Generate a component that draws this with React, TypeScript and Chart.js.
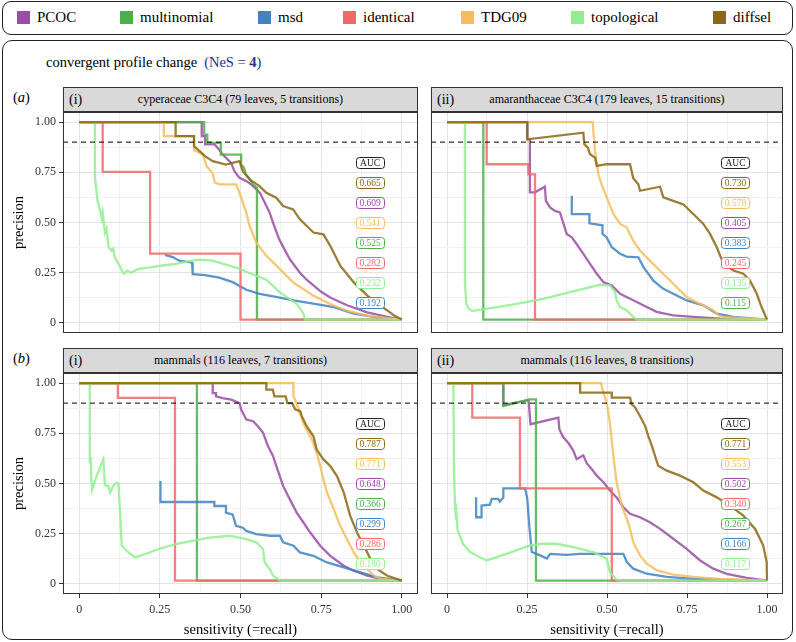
import React, { useEffect, useRef } from 'react';
import { Chart, registerables } from 'chart.js';

Chart.register(...registerables);

type Pt = [number, number];

const SERIF = '"Liberation Serif", "DejaVu Serif", serif';

const METHODS = ['PCOC', 'multinomial', 'msd', 'identical', 'TDG09', 'topological', 'diffsel'];
const COLORS = ['#984EA3', '#4DAF4A', '#3F83BF', '#EE6A6A', '#F6BD5C', '#90EE90', '#8B6914'];

const GRID_VALUES = [0, 0.125, 0.25, 0.375, 0.5, 0.625, 0.75, 0.875, 1];
const TICK_VALUES = [0, 0.25, 0.5, 0.75, 1];
const TICK_LABELS = ['0', '0.25', '0.50', '0.75', '1.00'];
const THRESHOLD = 0.9;
const AUC_X = 0.9;
const AUC_Y_TOP = 0.8;
const AUC_Y_STEP = 0.1;

// ---------- (a)(i) cyperaceae C3C4 ----------
const a1_PCOC: Pt[] = [[0,1],[0.38,1],[0.38,0.93],[0.39,0.93],[0.39,0.889],[0.42,0.889],[0.43,0.87],[0.445,0.838],[0.471,0.797],[0.481,0.755],[0.497,0.722],[0.518,0.706],[0.533,0.69],[0.56,0.648],[0.575,0.6],[0.59,0.55],[0.605,0.48],[0.62,0.416],[0.635,0.37],[0.653,0.317],[0.668,0.285],[0.684,0.25],[0.705,0.215],[0.726,0.187],[0.75,0.155],[0.778,0.127],[0.83,0.088],[0.893,0.053],[0.955,0.03],[1,0.017]];
const a1_multinomial: Pt[] = [[0,1],[0.3875,1],[0.3875,0.937],[0.397,0.937],[0.397,0.896],[0.439,0.896],[0.439,0.838],[0.502,0.838],[0.502,0.788],[0.51,0.775],[0.517,0.739],[0.528,0.72],[0.538,0.69],[0.551,0.673],[0.551,0.017],[1,0.017]];
const a1_msd: Pt[] = [[0.266,0.339],[0.29,0.328],[0.31,0.31],[0.35,0.3],[0.352,0.243],[0.39,0.238],[0.434,0.226],[0.476,0.203],[0.518,0.165],[0.559,0.145],[0.61,0.13],[0.664,0.112],[0.726,0.096],[0.789,0.079],[0.851,0.046],[0.924,0.028],[1,0.017]];
const a1_identical: Pt[] = [[0,1],[0.073,1],[0.073,0.752],[0.22,0.752],[0.22,0.345],[0.5,0.345],[0.5,0.017],[1,0.017]];
const a1_TDG09: Pt[] = [[0,1],[0.2625,1],[0.2625,0.93],[0.356,0.93],[0.356,0.86],[0.383,0.84],[0.395,0.78],[0.414,0.745],[0.42,0.7],[0.434,0.69],[0.486,0.69],[0.497,0.648],[0.518,0.549],[0.528,0.483],[0.549,0.4],[0.58,0.334],[0.622,0.268],[0.663,0.202],[0.726,0.136],[0.778,0.094],[0.83,0.061],[0.893,0.037],[0.95,0.025],[1,0.017]];
const a1_topological: Pt[] = [[0,1],[0.049,1],[0.049,0.724],[0.057,0.608],[0.065,0.56],[0.07,0.52],[0.073,0.55],[0.08,0.45],[0.085,0.47],[0.091,0.38],[0.1,0.36],[0.106,0.37],[0.11,0.33],[0.12,0.3],[0.13,0.27],[0.1375,0.245],[0.15,0.26],[0.16,0.25],[0.184,0.269],[0.226,0.278],[0.257,0.286],[0.299,0.294],[0.35,0.31],[0.372,0.315],[0.414,0.31],[0.455,0.29],[0.497,0.27],[0.54,0.24],[0.58,0.215],[0.622,0.152],[0.674,0.095],[0.694,0.05],[0.7,0.017],[1,0.017]];
const a1_diffsel: Pt[] = [[0,1],[0.299,1],[0.299,0.93],[0.356,0.93],[0.356,0.88],[0.37,0.86],[0.39,0.83],[0.414,0.805],[0.455,0.788],[0.497,0.805],[0.507,0.755],[0.528,0.714],[0.559,0.681],[0.58,0.648],[0.611,0.623],[0.632,0.582],[0.663,0.565],[0.684,0.516],[0.726,0.45],[0.757,0.441],[0.778,0.384],[0.809,0.285],[0.851,0.202],[0.893,0.136],[0.934,0.086],[0.976,0.037],[1,0.017]];
const a1_aucValues = [0.665, 0.609, 0.541, 0.525, 0.282, 0.232, 0.192];
const a1_aucMethods = ['diffsel', 'PCOC', 'TDG09', 'multinomial', 'identical', 'topological', 'msd'];

// ---------- (a)(ii) amaranthaceae C3C4 ----------
const a2_PCOC: Pt[] = [[0,1],[0.251,1],[0.251,0.914],[0.259,0.914],[0.259,0.65],[0.275,0.65],[0.306,0.678],[0.309,0.608],[0.322,0.575],[0.3375,0.558],[0.353,0.55],[0.374,0.443],[0.39,0.426],[0.405,0.393],[0.426,0.344],[0.447,0.294],[0.468,0.245],[0.489,0.203],[0.515,0.187],[0.541,0.145],[0.561,0.129],[0.593,0.104],[0.624,0.079],[0.655,0.055],[0.707,0.038],[0.77,0.03],[0.853,0.021],[1,0.017]];
const a2_multinomial: Pt[] = [[0,1],[0.1135,1],[0.1135,0.017],[1,0.017]];
const a2_msd: Pt[] = [[0.39,0.633],[0.39,0.542],[0.445,0.542],[0.445,0.496],[0.486,0.486],[0.486,0.443],[0.499,0.426],[0.515,0.377],[0.541,0.344],[0.561,0.33],[0.598,0.327],[0.614,0.278],[0.645,0.21],[0.676,0.17],[0.707,0.145],[0.749,0.112],[0.801,0.088],[0.843,0.046],[0.895,0.03],[1,0.017]];
const a2_identical: Pt[] = [[0,1],[0.124,1],[0.124,0.79],[0.254,0.79],[0.254,0.74],[0.275,0.74],[0.275,0.017],[1,0.017]];
const a2_TDG09: Pt[] = [[0,1],[0.455,1],[0.4625,0.856],[0.473,0.74],[0.483,0.69],[0.499,0.625],[0.52,0.542],[0.541,0.493],[0.561,0.476],[0.582,0.41],[0.603,0.36],[0.634,0.31],[0.666,0.26],[0.707,0.195],[0.749,0.129],[0.79,0.096],[0.832,0.063],[0.848,0.038],[0.86,0.03],[1,0.017]];
const a2_topological: Pt[] = [[0,1],[0.056,1],[0.056,0.2],[0.06,0.1],[0.066,0.075],[0.075,0.062],[0.082,0.06],[0.2,0.09],[0.3,0.12],[0.4,0.16],[0.478,0.19],[0.509,0.187],[0.525,0.154],[0.53,0.112],[0.54,0.08],[0.561,0.063],[0.582,0.03],[0.593,0.017],[1,0.017]];
const a2_diffsel: Pt[] = [[0,1],[0.251,1],[0.251,0.914],[0.426,0.947],[0.429,0.89],[0.44,0.873],[0.447,0.84],[0.4625,0.823],[0.468,0.782],[0.499,0.79],[0.572,0.79],[0.582,0.72],[0.598,0.69],[0.603,0.658],[0.666,0.678],[0.676,0.625],[0.707,0.608],[0.739,0.59],[0.78,0.526],[0.801,0.493],[0.822,0.443],[0.843,0.377],[0.864,0.294],[0.895,0.261],[0.926,0.245],[0.947,0.21],[0.968,0.145],[0.983,0.079],[1,0.017]];
const a2_aucValues = [0.730, 0.578, 0.405, 0.383, 0.245, 0.135, 0.115];
const a2_aucMethods = ['diffsel', 'TDG09', 'PCOC', 'msd', 'identical', 'topological', 'multinomial'];

// ---------- (b)(i) mammals, 7 transitions ----------
const b1_PCOC: Pt[] = [[0,1],[0.414,1],[0.414,0.95],[0.424,0.95],[0.424,0.934],[0.445,0.925],[0.471,0.917],[0.497,0.9],[0.502,0.868],[0.518,0.818],[0.539,0.81],[0.554,0.785],[0.57,0.752],[0.585,0.686],[0.601,0.636],[0.611,0.587],[0.632,0.488],[0.653,0.421],[0.674,0.355],[0.695,0.306],[0.716,0.256],[0.747,0.19],[0.778,0.14],[0.82,0.091],[0.851,0.066],[0.893,0.041],[0.934,0.025],[1,0.017]];
const b1_multinomial: Pt[] = [[0,1],[0.365,1],[0.365,0.017],[1,0.017]];
const b1_msd: Pt[] = [[0.252,0.512],[0.252,0.408],[0.419,0.408],[0.419,0.388],[0.455,0.388],[0.455,0.355],[0.476,0.345],[0.486,0.289],[0.507,0.28],[0.518,0.264],[0.549,0.248],[0.591,0.24],[0.622,0.24],[0.632,0.207],[0.664,0.19],[0.684,0.157],[0.726,0.14],[0.768,0.107],[0.82,0.083],[0.872,0.058],[0.924,0.033],[1,0.017]];
const b1_identical: Pt[] = [[0,1],[0.12,1],[0.12,0.926],[0.297,0.926],[0.297,0.017],[1,0.017]];
const b1_TDG09: Pt[] = [[0,1],[0.664,1],[0.664,0.934],[0.669,0.917],[0.684,0.85],[0.695,0.8],[0.705,0.768],[0.716,0.735],[0.726,0.7],[0.736,0.653],[0.747,0.587],[0.757,0.52],[0.768,0.455],[0.789,0.372],[0.809,0.289],[0.83,0.223],[0.851,0.157],[0.872,0.107],[0.893,0.074],[0.914,0.041],[0.934,0.025],[1,0.017]];
const b1_topological: Pt[] = [[0,1],[0.033,1],[0.033,0.6],[0.036,0.63],[0.037,0.55],[0.04,0.47],[0.054,0.537],[0.075,0.62],[0.08,0.49],[0.09,0.488],[0.096,0.455],[0.106,0.49],[0.117,0.504],[0.122,0.5],[0.132,0.19],[0.153,0.157],[0.174,0.132],[0.205,0.149],[0.247,0.174],[0.299,0.198],[0.351,0.215],[0.403,0.231],[0.466,0.24],[0.518,0.223],[0.549,0.207],[0.57,0.174],[0.575,0.107],[0.591,0.074],[0.601,0.041],[0.622,0.017],[1,0.017]];
const b1_diffsel: Pt[] = [[0,1],[0.58,1],[0.58,0.967],[0.6,0.967],[0.605,0.934],[0.64,0.934],[0.645,0.9],[0.66,0.9],[0.67,0.868],[0.685,0.86],[0.69,0.835],[0.705,0.785],[0.726,0.735],[0.736,0.669],[0.757,0.62],[0.778,0.587],[0.799,0.537],[0.82,0.455],[0.84,0.339],[0.861,0.256],[0.882,0.19],[0.903,0.124],[0.924,0.074],[0.955,0.041],[1,0.017]];
const b1_aucValues = [0.787, 0.771, 0.648, 0.366, 0.299, 0.286, 0.180];
const b1_aucMethods = ['diffsel', 'TDG09', 'PCOC', 'multinomial', 'msd', 'identical', 'topological'];

// ---------- (b)(ii) mammals, 8 transitions ----------
const b2_PCOC: Pt[] = [[0,1],[0.176,1],[0.176,0.89],[0.255,0.915],[0.261,0.795],[0.348,0.828],[0.351,0.77],[0.364,0.729],[0.38,0.7],[0.395,0.663],[0.405,0.621],[0.426,0.64],[0.437,0.6],[0.452,0.572],[0.468,0.539],[0.489,0.506],[0.509,0.465],[0.53,0.431],[0.551,0.382],[0.572,0.349],[0.603,0.332],[0.634,0.307],[0.666,0.274],[0.707,0.225],[0.749,0.175],[0.791,0.117],[0.832,0.076],[0.874,0.05],[0.937,0.03],[1,0.017]];
const b2_multinomial: Pt[] = [[0,1],[0.176,1],[0.176,0.886],[0.259,0.919],[0.278,0.919],[0.278,0.017],[1,0.017]];
const b2_msd: Pt[] = [[0.091,0.431],[0.091,0.332],[0.108,0.332],[0.108,0.39],[0.134,0.395],[0.14,0.423],[0.16,0.423],[0.165,0.41],[0.176,0.43],[0.176,0.476],[0.244,0.476],[0.251,0.423],[0.257,0.291],[0.265,0.159],[0.291,0.142],[0.312,0.126],[0.322,0.15],[0.374,0.145],[0.416,0.15],[0.551,0.15],[0.562,0.109],[0.582,0.076],[0.624,0.051],[0.687,0.035],[0.77,0.025],[1,0.017]];
const b2_identical: Pt[] = [[0,1],[0.079,1],[0.079,0.828],[0.228,0.828],[0.228,0.476],[0.515,0.476],[0.515,0.017],[1,0.017]];
const b2_TDG09: Pt[] = [[0,1],[0.481,1],[0.489,0.952],[0.499,0.902],[0.509,0.803],[0.52,0.638],[0.53,0.506],[0.546,0.39],[0.562,0.324],[0.572,0.274],[0.582,0.208],[0.603,0.142],[0.624,0.101],[0.655,0.068],[0.707,0.046],[0.77,0.035],[0.85,0.025],[1,0.017]];
const b2_topological: Pt[] = [[0,1],[0.02,1],[0.022,0.55],[0.025,0.4],[0.028,0.32],[0.03,0.34],[0.033,0.27],[0.04,0.24],[0.05,0.2],[0.072,0.159],[0.1,0.135],[0.124,0.117],[0.186,0.15],[0.259,0.192],[0.3,0.2],[0.343,0.2],[0.395,0.183],[0.457,0.159],[0.499,0.125],[0.509,0.06],[0.53,0.02],[0.55,0.017],[1,0.017]];
const b2_diffsel: Pt[] = [[0,1],[0.416,1],[0.416,0.952],[0.515,0.952],[0.515,0.927],[0.572,0.927],[0.577,0.894],[0.5875,0.88],[0.603,0.836],[0.619,0.787],[0.629,0.737],[0.64,0.688],[0.65,0.638],[0.66,0.588],[0.687,0.564],[0.728,0.539],[0.77,0.506],[0.801,0.465],[0.843,0.431],[0.884,0.39],[0.926,0.34],[0.963,0.274],[0.988,0.192],[0.999,0.109],[1,0.017]];
const b2_aucValues = [0.771, 0.553, 0.502, 0.340, 0.267, 0.166, 0.117];
const b2_aucMethods = ['diffsel', 'TDG09', 'PCOC', 'identical', 'multinomial', 'msd', 'topological'];

interface PanelSpec {
  roman: string;
  title: string;
  curves: Pt[][];
  aucValues: number[];
  aucMethods: string[];
  showY: boolean;
  showX: boolean;
  left: number;
  top: number;
  width: number;
  height: number;
}

const Y_AXIS_W = 53;
const X_AXIS_H = 45;

const PANELS: PanelSpec[] = [
  { roman: '(i)', title: 'cyperaceae C3C4 (79 leaves, 5 transitions)', curves: [a1_PCOC, a1_multinomial, a1_msd, a1_identical, a1_TDG09, a1_topological, a1_diffsel], aucValues: a1_aucValues, aucMethods: a1_aucMethods, showY: true, showX: false, left: 10, top: 112, width: 408, height: 221 },
  { roman: '(ii)', title: 'amaranthaceae C3C4 (179 leaves, 15 transitions)', curves: [a2_PCOC, a2_multinomial, a2_msd, a2_identical, a2_TDG09, a2_topological, a2_diffsel], aucValues: a2_aucValues, aucMethods: a2_aucMethods, showY: false, showX: false, left: 431, top: 112, width: 352, height: 221 },
  { roman: '(i)', title: 'mammals (116 leaves, 7 transitions)', curves: [b1_PCOC, b1_multinomial, b1_msd, b1_identical, b1_TDG09, b1_topological, b1_diffsel], aucValues: b1_aucValues, aucMethods: b1_aucMethods, showY: true, showX: true, left: 10, top: 373, width: 408, height: 221 + X_AXIS_H },
  { roman: '(ii)', title: 'mammals (116 leaves, 8 transitions)', curves: [b2_PCOC, b2_multinomial, b2_msd, b2_identical, b2_TDG09, b2_topological, b2_diffsel], aucValues: b2_aucValues, aucMethods: b2_aucMethods, showY: false, showX: true, left: 431, top: 373, width: 352, height: 221 + X_AXIS_H },
];

function rgba(hex: string, a: number) {
  const n = parseInt(hex.slice(1), 16);
  return `rgba(${(n >> 16) & 255},${(n >> 8) & 255},${n & 255},${a})`;
}

function isMajor(v: number) {
  return TICK_VALUES.some((t) => Math.abs(t - v) < 1e-6);
}
function tickLabel(v: number) {
  const i = TICK_VALUES.findIndex((t) => Math.abs(t - v) < 1e-6);
  return i >= 0 ? TICK_LABELS[i] : '';
}

function makeDeco(panel: PanelSpec) {
  return {
    id: 'panelDeco',
    afterDatasetsDraw(chart: any) {
      const { ctx, chartArea, scales } = chart;
      const { left, top, right, bottom } = chartArea;
      const xs = scales.x, ys = scales.y;
      ctx.save();
      const items = [{ text: 'AUC', color: '#222222' }].concat(
        panel.aucValues.map((v, i) => ({ text: v.toFixed(3), color: COLORS[METHODS.indexOf(panel.aucMethods[i])] }))
      );
      const w = 28, h = 11;
      ctx.font = `9.5px ${SERIF}`;
      ctx.textAlign = 'center';
      ctx.textBaseline = 'middle';
      items.forEach((it, i) => {
        const cx = xs.getPixelForValue(AUC_X);
        const cy = ys.getPixelForValue(AUC_Y_TOP - AUC_Y_STEP * i);
        ctx.beginPath();
        (ctx as any).roundRect(Math.round(cx - w / 2) + 0.5, Math.round(cy - h / 2) + 0.5, w, h, 3);
        ctx.fillStyle = '#ffffff';
        ctx.fill();
        ctx.lineWidth = 1;
        ctx.strokeStyle = it.color;
        ctx.stroke();
        ctx.fillStyle = it.color;
        ctx.fillText(it.text, cx + 0.5, cy + 1);
      });
      ctx.strokeStyle = '#333333';
      ctx.lineWidth = 1;
      ctx.strokeRect(left + 0.5, top + 0.5, right - left - 1, bottom - top - 1);
      ctx.restore();
    },
  };
}

function makeChart(canvas: HTMLCanvasElement, panel: PanelSpec) {
  const datasets: any[] = [
    {
      label: 'threshold',
      data: [{ x: -0.05, y: THRESHOLD }, { x: 1.05, y: THRESHOLD }],
      borderColor: '#000000',
      borderWidth: 1,
      borderDash: [5, 4],
      pointRadius: 0,
    },
  ];
  for (let i = METHODS.length - 1; i >= 0; i--) {
    datasets.push({
      label: METHODS[i],
      data: panel.curves[i].map(([x, y]) => ({ x, y })),
      borderColor: rgba(COLORS[i], 0.85),
      borderWidth: 2.3,
      pointRadius: 0,
      fill: false,
      tension: 0,
    });
  }
  const gridColor = (c: any) => (isMajor(c.tick.value) ? '#e4e4e4' : '#f1f1f1');
  const tickColor = (c: any) => (isMajor(c.tick.value) ? '#333333' : 'rgba(0,0,0,0)');
  const zeroPad = (s: any) => {
    s.paddingLeft = 0; s.paddingRight = 0; s.paddingTop = 0; s.paddingBottom = 0;
  };
  return new Chart(canvas, {
    type: 'line',
    data: { datasets },
    plugins: [makeDeco(panel)],
    options: {
      responsive: false,
      maintainAspectRatio: false,
      animation: false,
      devicePixelRatio: 1,
      events: [],
      layout: { padding: 0, autoPadding: false } as any,
      plugins: { legend: { display: false }, tooltip: { enabled: false }, title: { display: false } },
      scales: {
        x: {
          type: 'linear',
          min: -0.05,
          max: 1.05,
          afterBuildTicks: (s: any) => { s.ticks = GRID_VALUES.map((v) => ({ value: v })); },
          afterFit: (s: any) => { s.height = panel.showX ? X_AXIS_H : 0; zeroPad(s); },
          ticks: {
            display: panel.showX,
            autoSkip: false,
            maxRotation: 0,
            padding: 5,
            color: '#333333',
            font: { family: SERIF, size: 12 },
            callback: (v: any) => tickLabel(Number(v)),
          },
          grid: { color: gridColor, lineWidth: 1, drawTicks: panel.showX, tickLength: 4, tickColor, tickWidth: 1 },
          border: { display: false },
          title: { display: panel.showX, text: 'sensitivity (=recall)', color: '#000000', font: { family: SERIF, size: 14.5 }, padding: 0 },
        },
        y: {
          type: 'linear',
          min: -0.05,
          max: 1.05,
          afterBuildTicks: (s: any) => { s.ticks = GRID_VALUES.map((v) => ({ value: v })); },
          afterFit: (s: any) => { s.width = panel.showY ? Y_AXIS_W : 0; zeroPad(s); },
          ticks: {
            display: panel.showY,
            autoSkip: false,
            padding: 3,
            color: '#333333',
            font: { family: SERIF, size: 12 },
            callback: (v: any) => tickLabel(Number(v)),
          },
          grid: { color: gridColor, lineWidth: 1, drawTicks: panel.showY, tickLength: 4, tickColor, tickWidth: 1 },
          border: { display: false },
          title: { display: panel.showY, text: 'precision', color: '#000000', font: { family: SERIF, size: 14.5 }, padding: 0 },
        },
      },
    } as any,
  });
}

function Panel({ panel }: { panel: PanelSpec }) {
  const ref = useRef<HTMLCanvasElement>(null);
  useEffect(() => {
    const chart = makeChart(ref.current as HTMLCanvasElement, panel);
    return () => chart.destroy();
  }, [panel]);
  return (
    <canvas
      ref={ref}
      width={panel.width}
      height={panel.height}
      style={{ position: 'absolute', left: panel.left, top: panel.top, width: panel.width, height: panel.height }}
    />
  );
}

const LEGEND_X = [17, 120, 258, 343, 461, 571, 713];
const HEADER_POS = [
  { left: 63, top: 87, width: 355 },
  { left: 431, top: 87, width: 352 },
  { left: 63, top: 348, width: 355 },
  { left: 431, top: 348, width: 352 },
];

export default function App() {
  return (
    <div style={{ position: 'absolute', left: 0, top: 0, width: 796, height: 642, background: '#ffffff', fontFamily: SERIF, color: '#000', overflow: 'hidden' }}>
      {/* legend box */}
      <div style={{ position: 'absolute', left: 2, top: 1, width: 791, height: 34, boxSizing: 'border-box', border: '1.3px solid #222', borderRadius: 9 }} />
      {METHODS.map((m, i) => (
        <React.Fragment key={m}>
          <div style={{ position: 'absolute', left: LEGEND_X[i], top: 11, width: 13, height: 13, background: COLORS[i] }} />
          <div style={{ position: 'absolute', left: LEGEND_X[i] + 20, top: 8, height: 19, lineHeight: '19px', fontSize: 15, whiteSpace: 'nowrap' }}>{m}</div>
        </React.Fragment>
      ))}
      {/* main box */}
      <div style={{ position: 'absolute', left: 2, top: 40, width: 791, height: 600, boxSizing: 'border-box', border: '1.3px solid #222', borderRadius: 10 }} />
      <div style={{ position: 'absolute', left: 46, top: 54, height: 17, lineHeight: '17px', fontSize: 14.5, whiteSpace: 'nowrap' }}>
        convergent profile change
        <span style={{ color: '#262f8c', marginLeft: 7 }}>(NeS = <b>4</b>)</span>
      </div>
      <div style={{ position: 'absolute', left: 13, top: 89, height: 17, lineHeight: '17px', fontSize: 14.5 }}>(<i>a</i>)</div>
      <div style={{ position: 'absolute', left: 13, top: 350, height: 17, lineHeight: '17px', fontSize: 14.5 }}>(<i>b</i>)</div>
      {PANELS.map((p, i) => (
        <div key={'h' + i} style={{ position: 'absolute', left: HEADER_POS[i].left, top: HEADER_POS[i].top, width: HEADER_POS[i].width, height: 25, boxSizing: 'border-box', background: '#d9d9d9', border: '1px solid #333' }}>
          <div style={{ position: 'absolute', left: 5, top: 0, lineHeight: '23px', fontSize: 14 }}>{p.roman}</div>
          <div style={{ position: 'absolute', left: 0, right: 0, top: 0, lineHeight: '23px', fontSize: 12, textAlign: 'center' }}>{p.title}</div>
        </div>
      ))}
      {PANELS.map((p, i) => (
        <Panel key={'p' + i} panel={p} />
      ))}
    </div>
  );
}
